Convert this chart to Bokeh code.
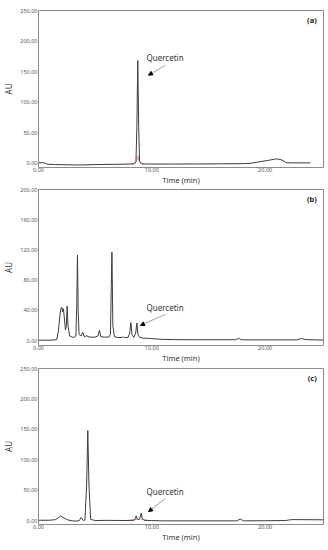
from bokeh.plotting import figure
from bokeh.layouts import column
from bokeh.models import Range1d, FixedTicker, NumeralTickFormatter, Label, Arrow, NormalHead
from bokeh.embed import file_html
from bokeh.resources import INLINE

# ---- data ----
time_a = [0, 0.5, 0.8, 1.5, 3.0, 3.7, 5.0, 7.0, 8.4, 8.6, 8.68, 8.76, 8.84, 8.92, 9.1,
          10, 12, 14, 16, 18, 18.7, 19.5, 20.3, 21.0, 21.4, 21.9, 22.5, 24.0]
au_a = [0.5, 0.5, -2.0, -2.5, -3.0, -3.2, -2.5, -2.0, -1.5, 2, 60, 168, 60, 3, -1.5,
        -1.6, -1.6, -1.5, -1.3, -1.0, -0.5, 2.0, 4.5, 6.8, 5.5, 0.5, 0.3, 0.3]
time_a_red = [8.2, 8.55, 8.7, 8.76, 8.85, 9.0, 9.3]
au_a_red = [-1.5, 0, 6, 12, 5, 0, -1.5]

time_b = [0, 1.0, 1.6, 1.75, 1.9, 2.0, 2.06, 2.13, 2.2, 2.28, 2.38, 2.46, 2.53, 2.6, 2.75,
          2.9, 3.1, 3.3, 3.38, 3.44, 3.5, 3.58, 3.75, 3.9, 4.0, 4.15, 4.25, 4.35, 4.6, 5.0,
          5.25, 5.38, 5.5, 5.8, 6.2, 6.35, 6.42, 6.48, 6.56, 6.7, 7.0, 7.4, 7.5, 7.6, 7.9,
          8.05, 8.15, 8.25, 8.4, 8.58, 8.68, 8.78, 8.95, 9.3, 9.6, 10, 10.5, 11, 12, 14,
          16, 17.4, 17.65, 17.9, 19, 21, 22.8, 23.2, 23.6, 25.15]
au_b = [0.4, 0.4, 1, 12, 35, 43, 44, 38, 42, 30, 14, 20, 45.6, 20, 6,
        5, 4, 6, 50, 113, 40, 8, 6, 11, 6, 5, 7, 5, 4.5, 4.5,
        6, 13.5, 5, 4.5, 4.5, 8, 70, 117, 20, 5, 4, 4, 5, 4, 4,
        10, 23.7, 8, 4, 10, 23.3, 8, 4, 3, 3, 2.5, 2, 1.5, 1.2, 1,
        1, 1, 3, 1, 0.8, 0.8, 0.8, 2.6, 1.2, 0.5]

time_c = [0, 1.0, 1.5, 1.75, 1.97, 2.2, 2.6, 3.0, 3.3, 3.6, 3.77, 3.95, 4.1, 4.25, 4.35,
          4.45, 4.6, 5.0, 6.0, 7.0, 8.0, 8.45, 8.55, 8.62, 8.7, 8.8, 8.95, 9.06, 9.15, 9.3,
          9.6, 10, 11, 14, 17.5, 17.8, 18.1, 20, 21.8, 22.3, 23, 25.15]
au_c = [0.5, 0.5, 1.5, 4.5, 7.7, 4.5, 1, -0.5, -1, 0, 5, 0, 1, 60, 148,
        60, 2, 0, 0.3, 0.2, 0, 0.5, 3, 7.7, 3, 1, 4, 12, 4, 0.5,
        0, 0, -0.5, -0.5, -0.5, 2.5, -0.5, -0.3, 0, 1.5, 1.5, 1.2]
time_c_red = [7.8, 8.3, 8.8, 9.3, 9.8]
au_c_red = [0, 1.5, 2.5, 1.5, 0]

x_ticks = [0, 10, 20]
y_ticks_a = [0, 50, 100, 150, 200, 250]
y_ticks_b = [0, 40, 80, 120, 160, 200]
y_ticks_c = [0, 50, 100, 150, 200, 250]

FONT = "Noto Sans"
LINE = "#3c3c3c"
FRAME = "#8c8c8c"


def panel(t, y, yrange, yticks, tag, tag_y, lab_y, arr, top, fh, red=None):
    p = figure(frame_width=285, frame_height=fh, output_backend="svg",
               toolbar_location=None,
               x_range=Range1d(0, 25.15), y_range=Range1d(*yrange),
               min_border_left=35, min_border_right=8, min_border_top=top,
               min_border_bottom=19)
    p.background_fill_color = "white"
    p.border_fill_color = "white"
    p.outline_line_color = FRAME
    p.outline_line_width = 1
    p.grid.visible = False
    for ax in (p.xaxis[0], p.yaxis[0]):
        ax.axis_line_color = None
        ax.major_tick_line_color = None
        ax.minor_tick_line_color = None
        ax.major_tick_out = 0
        ax.major_tick_in = 0
        ax.minor_tick_out = 0
        ax.minor_tick_in = 0
        ax.major_label_text_font = FONT
        ax.major_label_text_font_size = "5.5px"
        ax.major_label_text_color = "#555555"
        ax.major_label_standoff = 0
        ax.axis_label_text_font = FONT
        ax.axis_label_text_font_size = "7.5px"
        ax.axis_label_text_font_style = "normal"
        ax.axis_label_text_color = "#333333"
        ax.axis_label_standoff = 0
        ax.formatter = NumeralTickFormatter(format="0.00")
    p.xaxis[0].ticker = FixedTicker(ticks=x_ticks)
    p.yaxis[0].ticker = FixedTicker(ticks=yticks)
    p.xaxis[0].axis_label = "Time (min)"
    p.yaxis[0].axis_label = "AU"
    p.yaxis[0].axis_label_text_font_size = "8px"
    p.yaxis[0].major_label_standoff = 1
    p.yaxis[0].axis_label_standoff = 3

    if red is not None:
        p.line(red[0], red[1], line_color="#e39a9a", line_width=1)
    p.line(t, y, line_color=LINE, line_width=1)

    p.add_layout(Label(x=24.55, y=tag_y, text=tag, text_align="right",
                       text_baseline="middle", text_font=FONT,
                       text_font_size="7.5px", text_font_style="bold",
                       text_color="#222222"))
    p.add_layout(Label(x=9.53, y=lab_y, text="Quercetin", text_align="left",
                       text_baseline="middle", text_font=FONT,
                       text_font_size="8px", text_color="#333333"))
    p.add_layout(Arrow(x_start=arr[0], y_start=arr[1], x_end=arr[2], y_end=arr[3],
                       line_color="#888888", line_width=0.8,
                       end=NormalHead(size=4, fill_color="black", line_color="black")))
    return p


pa = panel(time_a, au_a, (-7.3, 250), y_ticks_a, "(a)", 233.7, 173.5,
           (11.2, 160.4, 9.71, 144.0), top=10, fh=157, red=(time_a_red, au_a_red))
pb = panel(time_b, au_b, (-6.6, 200), y_ticks_b, "(b)", 186.8, 44.3,
           (11.2, 34.6, 9.0, 20.1), top=2, fh=156)
pc = panel(time_c, au_c, (-6.5, 250), y_ticks_c, "(c)", 235.0, 48.5,
           (11.2, 36.4, 9.71, 14.7), top=3, fh=156, red=(time_c_red, au_c_red))

layout = column(pa, pb, pc, spacing=0)
open("out.html", "w").write(file_html(layout, INLINE))
